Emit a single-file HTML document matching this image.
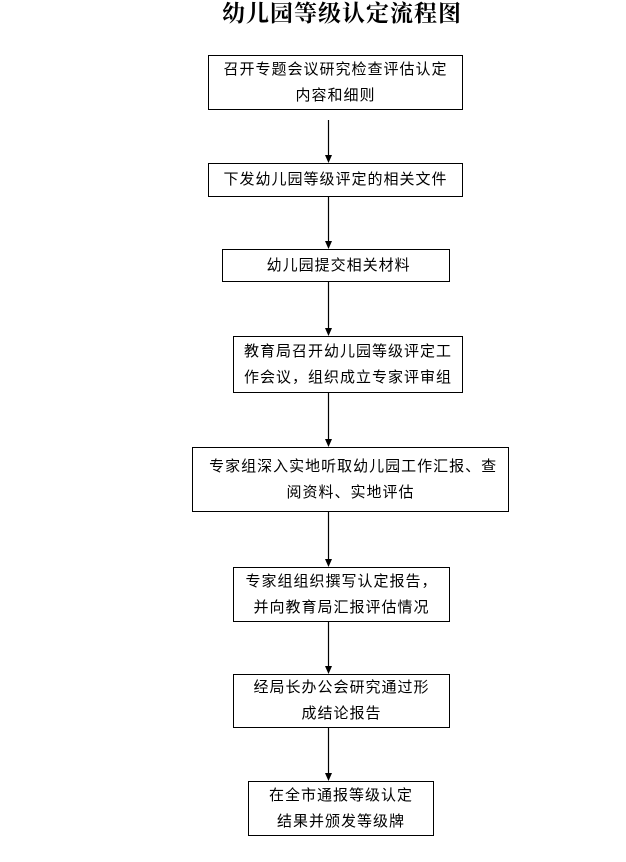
<!DOCTYPE html>
<html><head><meta charset="utf-8"><style>
body{margin:0;width:626px;height:862px;background:#fff;position:relative;font-family:"Liberation Sans","Noto Sans CJK SC",sans-serif;overflow:hidden}
.t{position:absolute;left:212px;top:0;width:260px;text-align:center;font-size:23px;font-weight:bold;line-height:28px;font-family:"Liberation Serif","Noto Serif CJK SC",serif;letter-spacing:1px}
.b{position:absolute;border:1px solid #000;box-sizing:border-box;display:flex;flex-direction:column;justify-content:center;align-items:center;font-size:15px;letter-spacing:1px;line-height:26px;color:#000}
svg{position:absolute;left:0;top:0}
</style></head><body>
<div class="t">幼儿园等级认定流程图</div>
<div class="b" style="left:208px;top:55px;width:255px;height:55px"><div>召开专题会议研究检查评估认定</div><div>内容和细则</div></div>
<div class="b" style="left:208px;top:163px;width:255px;height:34px"><div>下发幼儿园等级评定的相关文件</div></div>
<div class="b" style="left:222px;top:249px;width:228px;height:33px"><div>&nbsp;幼儿园提交相关材料</div></div>
<div class="b" style="left:233px;top:336px;width:230px;height:57px"><div>教育局召开幼儿园等级评定工</div><div>作会议，组织成立专家评审组</div></div>
<div class="b" style="left:192px;top:447px;width:317px;height:65px"><div>&nbsp;专家组深入实地听取幼儿园工作汇报、查</div><div>阅资料、实地评估</div></div>
<div class="b" style="left:233px;top:567px;width:217px;height:55px"><div>专家组组织撰写认定报告，</div><div>并向教育局汇报评估情况</div></div>
<div class="b" style="left:233px;top:674px;width:217px;height:54px"><div>经局长办公会研究通过形</div><div>成结论报告</div></div>
<div class="b" style="left:248px;top:781px;width:186px;height:55px"><div>在全市通报等级认定</div><div>结果并颁发等级牌</div></div>
<svg width="626" height="862">
<g stroke="#000" stroke-width="1.2">
<line x1="328.5" y1="120" x2="328.5" y2="155"/>
<line x1="328.5" y1="197" x2="328.5" y2="241"/>
<line x1="328.5" y1="282" x2="328.5" y2="328"/>
<line x1="328.5" y1="393" x2="328.5" y2="439"/>
<line x1="328.5" y1="512" x2="328.5" y2="559"/>
<line x1="328.5" y1="622" x2="328.5" y2="666"/>
<line x1="328.5" y1="728" x2="328.5" y2="773"/>
</g>
<g fill="#000">
<polygon points="325,155 332,155 328.5,163"/>
<polygon points="325,241 332,241 328.5,249"/>
<polygon points="325,328 332,328 328.5,336"/>
<polygon points="325,439 332,439 328.5,447"/>
<polygon points="325,559 332,559 328.5,567"/>
<polygon points="325,666 332,666 328.5,674"/>
<polygon points="325,773 332,773 328.5,781"/>
</g>
</svg>
</body></html>
